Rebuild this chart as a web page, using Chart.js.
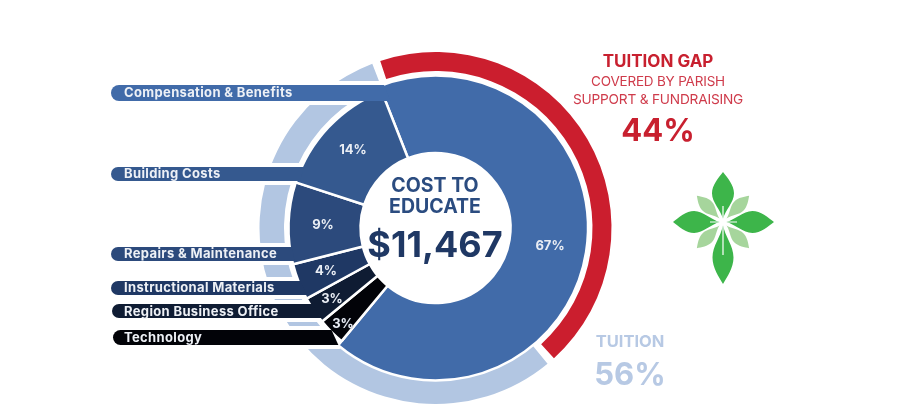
<!DOCTYPE html>
<html><head><meta charset="utf-8">
<style>html,body{margin:0;padding:0;background:#fff}canvas{display:block}</style>
<script src="https://cdn.jsdelivr.net/npm/chart.js@4"></script>
</head><body><canvas id="c" width="902" height="416"></canvas>
<script>
const costCategories = ["Tuition share","Technology","Region Business Office","Instructional Materials","Repairs & Maintenance","Building Costs"];
const costValues = [67,3,3,4,9,14];
const costColors = ["#416BA9","#020308","#0F1C33","#1F3864","#2C4A7C","#35598F"];
const fundingCategories = ["Tuition Gap","Tuition"];
const fundingValues = [44,56];
const fundingColors = ["#CB1E2E","#B2C6E2"];
const barLabels = ["Compensation & Benefits","Building Costs","Repairs & Maintenance","Instructional Materials","Region Business Office","Technology"];
const barWedge = [0,5,4,3,2,1];
const pctLabels = ["67%","14%","9%","4%","3%","3%"];

const FONT='Inter';
const barGeom=[[111,85,101],[111,167,181],[111,247,261],[111,281,295],[112,304,318],[113,330,345]];
const barTextY=[93,174,254,288,312,338];
const pctPos=[[550,246],[353,150],[323,225],[326,271],[332,299],[343,324]];

function enter(arc,y){
  const {x:cx,y:cy,startAngle:a,endAngle:b,outerRadius:R}=arc;
  for(let x=100;x<cx;x+=0.5){
    const dx=x-cx,dy=y-cy,r=Math.hypot(dx,dy);
    let t=Math.atan2(dy,dx);
    while(t<a)t+=2*Math.PI;
    if(t>b||r>R+1)continue;
    if(r*Math.sin(Math.min(t-a,1.5))>=1.5&&r*Math.sin(Math.min(b-t,1.5))>=1.5)return x+3;
  }
  let best=null,bd=1e9;
  for(const t of [a,b]){
    const s=Math.sin(t);if(Math.abs(s)<.01)continue;
    const rr=(y-cy)/s;if(rr<=0)continue;
    const d=Math.abs(rr-R);
    if(d<bd){bd=d;best=cx+rr*Math.cos(t);}
  }
  return best;
}
function barPath(ctx,chart,i){
  const arc=chart.getDatasetMeta(0).data[barWedge[i]];
  const [l,t,b]=barGeom[i];
  const xt=enter(arc,t),xb=enter(arc,b),rad=(b-t)/2;
  ctx.beginPath();
  ctx.moveTo(l+rad,t);
  ctx.lineTo(xt,t);
  ctx.lineTo(xb,b);
  ctx.lineTo(l+rad,b);
  ctx.arc(l+rad,t+rad,rad,Math.PI/2,Math.PI*1.5);
  ctx.closePath();
}
function txt(ctx,s,x,y,font,color,align,sp){
  ctx.font=font;ctx.fillStyle=color;ctx.textAlign=align||'center';ctx.textBaseline='middle';
  ctx.letterSpacing=sp||'0px';ctx.fillText(s,x,y);ctx.letterSpacing='0px';
}
function petal(ctx,cx,cy,ang,len,w,start,color){
  ctx.save();ctx.translate(cx,cy);ctx.rotate(ang);ctx.fillStyle=color;
  const L=len-start;
  ctx.beginPath();ctx.moveTo(start,0);
  ctx.bezierCurveTo(start+L*.2,-w*.1,start+L*.35,-w*.5,start+L*.55,-w*.5);
  ctx.bezierCurveTo(start+L*.72,-w*.5,start+L*.88,-w*.2,len,0);
  ctx.bezierCurveTo(start+L*.88,w*.2,start+L*.72,w*.5,start+L*.55,w*.5);
  ctx.bezierCurveTo(start+L*.35,w*.5,start+L*.2,w*.1,start,0);
  ctx.fill();ctx.restore();
}
function logo(ctx){
  const cx=723,cy=222;
  for(const a of [45,135,225,315]) petal(ctx,cx,cy,a*Math.PI/180,37,13,5,"#A6D59C");
  petal(ctx,cx,cy,-Math.PI/2,50,22,3,"#3DB54A");
  petal(ctx,cx,cy,Math.PI/2,62,21,3,"#3DB54A");
  petal(ctx,cx,cy,Math.PI,50,22,3,"#3DB54A");
  petal(ctx,cx,cy,0,51,22,3,"#3DB54A");
  ctx.strokeStyle="#fff";ctx.lineWidth=1.2;
  ctx.beginPath();ctx.moveTo(cx,cy-16);ctx.lineTo(cx,cy+33);ctx.moveTo(cx-13,cy);ctx.lineTo(cx+14,cy);ctx.stroke();
  ctx.fillStyle="#fff";ctx.beginPath();ctx.arc(cx,cy,3.5,0,7);ctx.fill();
}
const overlay={
  id:'overlay',
  afterDatasetsUpdate(chart){
    const inner=chart.getDatasetMeta(0).data, outer=chart.getDatasetMeta(1).data;
    inner.forEach((a,i)=>{a.innerRadius=75;a.outerRadius=i===0?152.5:147;});
    outer[0].innerRadius=154.5;outer[0].outerRadius=173.5;
    outer[1].innerRadius=149;outer[1].outerRadius=173.5;
  },
  beforeDatasetDraw(chart,args){
    if(args.index!==0)return;
    const ctx=chart.ctx;ctx.save();
    ctx.strokeStyle='#fff';ctx.fillStyle='#fff';ctx.lineWidth=8;ctx.lineJoin='round';
    barLabels.forEach((_,i)=>{barPath(ctx,chart,i);ctx.stroke();ctx.fill();});
    ctx.restore();
  },
  afterDatasetsDraw(chart){
    const ctx=chart.ctx;ctx.save();
    barLabels.forEach((s,i)=>{
      barPath(ctx,chart,i);ctx.fillStyle=costColors[barWedge[i]];ctx.fill();
    });
    barLabels.forEach((s,i)=>txt(ctx,s,124,barTextY[i],'700 13px '+FONT,'#EEF1F6','left','0.35px'));
    pctLabels.forEach((s,i)=>{
      if(i>=4){ctx.shadowColor='rgba(40,50,70,.8)';ctx.shadowBlur=1.5;}
      txt(ctx,s,pctPos[i][0],pctPos[i][1],'700 13px '+FONT,'#E9EDF4');
      ctx.shadowBlur=0;ctx.shadowColor='transparent';
    });
    txt(ctx,"COST TO",435,186,'700 19.5px '+FONT,'#2B4C80');
    txt(ctx,"EDUCATE",435,207,'700 19.5px '+FONT,'#2B4C80');
    txt(ctx,"$11,467",435,246,'700 36px '+FONT,'#1F3864');
    txt(ctx,"TUITION GAP",658,62,'700 17px '+FONT,'#C8202F');
    txt(ctx,"COVERED BY PARISH",658,82,'400 13.5px '+FONT,'#CF3B4B','center','-0.2px');
    txt(ctx,"SUPPORT & FUNDRAISING",658,100,'400 13.7px '+FONT,'#CF3B4B','center','-0.2px');
    txt(ctx,"44%",658,132,'700 31px '+FONT,'#C8202F');
    txt(ctx,"TUITION",630,342,'700 16.5px '+FONT,'#B7C9E4');
    txt(ctx,"56%",630,376,'700 31px '+FONT,'#B7C9E4');
    logo(ctx);
    ctx.restore();
  }
};
new Chart(document.getElementById('c'),{
  type:'doughnut',
  data:{labels:costCategories,datasets:[
    {data:costValues,backgroundColor:costColors,borderColor:'#fff',borderWidth:2.5,rotation:-21.5},
    {data:fundingValues,labels:fundingCategories,backgroundColor:fundingColors,borderWidth:0,spacing:5,rotation:-19.5}
  ]},
  options:{
    responsive:false,animation:false,events:[],
    layout:{padding:{left:260,right:291,top:52.5,bottom:12.5}},
    plugins:{legend:{display:false},tooltip:{enabled:false}}
  },
  plugins:[overlay]
});
</script></body></html>
